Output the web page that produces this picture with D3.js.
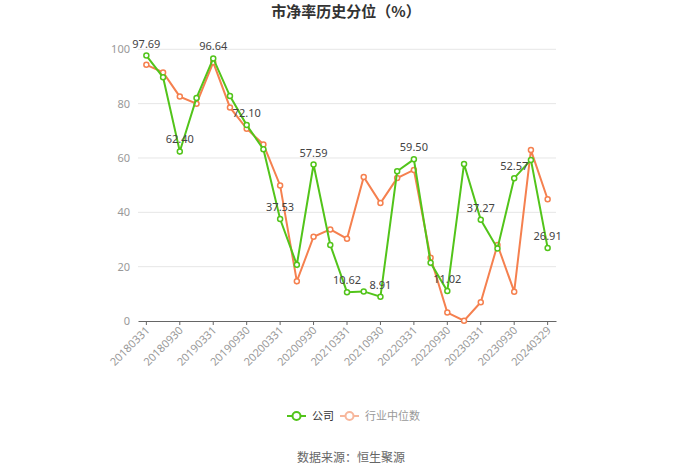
<!DOCTYPE html>
<html><head><meta charset="utf-8">
<script src="https://cdn.jsdelivr.net/npm/d3@7/dist/d3.min.js"></script>
<style>body{margin:0;background:#fff;}svg{display:block;font-family:"Noto Sans CJK SC","Noto Sans",sans-serif;}</style>
</head><body><svg id="c" width="700" height="473"></svg>
<script>
const dates = ["20180331","20180630","20180930","20181231","20190331","20190630","20190930","20191231","20200331","20200630","20200930","20201231","20210331","20210630","20210930","20211231","20220331","20220630","20220930","20221231","20230331","20230630","20230930","20231231","20240329"];
const company = [97.69,89.7,62.40,82.1,96.64,82.8,72.10,63.2,37.53,20.7,57.59,28.0,10.62,10.9,8.91,55.1,59.50,21.4,11.02,57.8,37.27,26.7,52.57,59.3,26.91];
const industry = [94.3,91.5,82.6,80.0,95.2,78.6,70.8,65.0,49.9,14.6,31.0,33.7,30.3,53.0,43.4,52.6,55.6,23.3,3.1,0.1,6.9,28.0,10.8,62.9,44.8];
const yTicks = [0,20,40,60,80,100];
const seriesNames = ["公司","行业中位数"];

(function(){
const svg = d3.select("#c");
const pl = 138, pr = 556, pt = 49.3, pb = 321;
const x = d3.scaleBand().domain(dates).range([pl, pr]);
const cx = d => x(d) + x.bandwidth()/2;
const y = d3.scaleLinear().domain([0,100]).range([pb, pt]);
const green = "#52c41a", orange = "#f5804f";

svg.append("text").attr("x",346).attr("y",17).attr("text-anchor","middle")
  .attr("font-size",15).attr("font-weight","bold").attr("fill","#333").text("市净率历史分位（%）");

svg.append("g").selectAll("line").data(yTicks.filter(t=>t>0)).join("line")
  .attr("x1",pl).attr("x2",pr).attr("y1",d=>y(d)).attr("y2",d=>y(d))
  .attr("stroke","#e6e6e6").attr("stroke-width",1);
const ya = svg.append("g").attr("transform",`translate(${pl},0)`)
  .call(d3.axisLeft(y).tickValues(yTicks).tickSize(0).tickPadding(8));
ya.select(".domain").remove();
ya.selectAll("text").attr("fill","#999").attr("font-size",11).attr("font-family","'Noto Sans',sans-serif");

const labelDates = dates.filter((d,i)=>i%2===0);
const xa = svg.append("g").attr("transform",`translate(0,${pb})`)
  .call(d3.axisBottom(x).tickValues(labelDates).tickSize(4).tickSizeOuter(0));
xa.select(".domain").attr("stroke","#666");
xa.selectAll(".tick line").attr("stroke","#666");
xa.selectAll("text").attr("fill","#999").attr("font-size",11).attr("font-family","'Noto Sans',sans-serif")
  .attr("text-anchor","end").attr("dy",0).attr("dx",0).attr("y",0)
  .attr("transform","translate(4,10) rotate(-45)");

function drawSeries(vals,color){
  const line = d3.line().x((d,i)=>cx(dates[i])).y(d=>y(d));
  svg.append("path").datum(vals).attr("d",line).attr("fill","none").attr("stroke",color).attr("stroke-width",2);
  svg.append("g").selectAll("circle").data(vals).join("circle")
    .attr("cx",(d,i)=>cx(dates[i])).attr("cy",d=>y(d)).attr("r",2.5)
    .attr("fill","#fff").attr("stroke",color).attr("stroke-width",1.5);
}
drawSeries(industry,orange);
drawSeries(company,green);

svg.append("g").selectAll("text").data(company.map((v,i)=>({v,i})).filter(d=>d.i%2===0)).join("text")
  .attr("x",d=>cx(dates[d.i])).attr("y",d=>y(d.v)-8).attr("text-anchor","middle")
  .attr("font-size",11).attr("fill","#444").attr("font-family","'Noto Sans',sans-serif")
  .text(d=>d.v.toFixed(2));

const lg = svg.append("g");
const items = [{name:seriesNames[0],color:green,x:287,text:"#333"},{name:seriesNames[1],color:"#f7b79c",x:340,text:"#999"}];
items.forEach(it=>{
  lg.append("line").attr("x1",it.x).attr("x2",it.x+19).attr("y1",416).attr("y2",416).attr("stroke",it.color).attr("stroke-width",2);
  lg.append("circle").attr("cx",it.x+9.5).attr("cy",416).attr("r",4).attr("fill","#fff").attr("stroke",it.color).attr("stroke-width",2);
  lg.append("text").attr("x",it.x+25).attr("y",420).attr("font-size",11).attr("fill",it.text).text(it.name);
});

svg.append("text").attr("x",351).attr("y",462).attr("text-anchor","middle").attr("font-size",12).attr("fill","#666").text("数据来源：恒生聚源");
})();
</script></body></html>
